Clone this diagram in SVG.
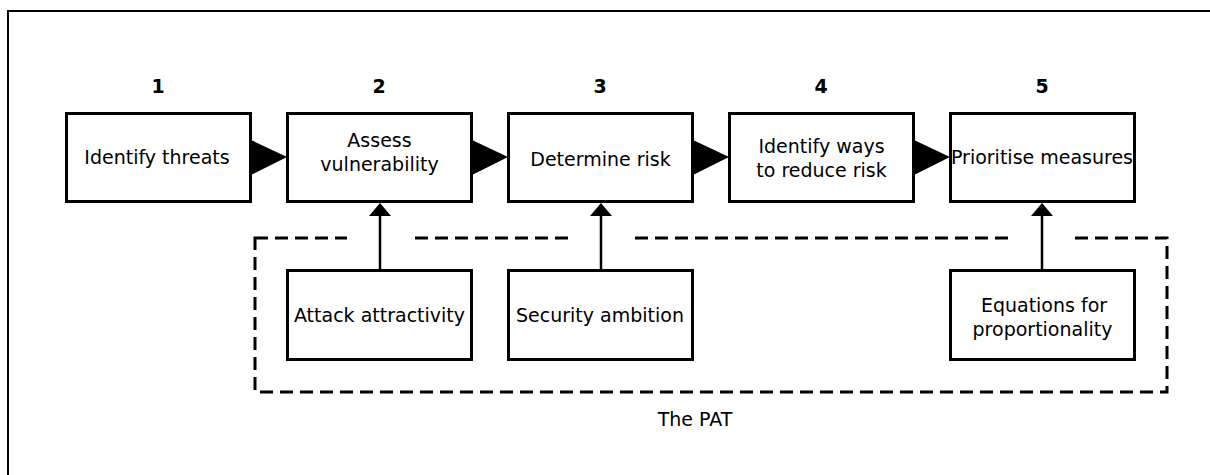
<svg xmlns="http://www.w3.org/2000/svg" width="1210" height="475" viewBox="0 0 1210 475">
  <style>
    .box { fill: #fff; stroke: #000; stroke-width: 3; }
    .lbl { font-family: "DejaVu Sans", "Liberation Sans", sans-serif; font-size: 19px; fill: #000; text-anchor: middle; }
    .num { font-family: "DejaVu Sans", "Liberation Sans", sans-serif; font-size: 19px; font-weight: bold; fill: #000; text-anchor: middle; }
    .flow { fill: #000; stroke: none; }
    .feed { stroke: #000; stroke-width: 2.5; fill: none; }
    .pat { fill: none; stroke: #000; stroke-width: 3; stroke-dasharray: 13 7; }
  </style>
  <defs>
    <!-- upward arrowhead, tip at the origin -->
    <path id="head-up" d="M0,0 L11,13 L-11,13 Z" fill="#000"/>
  </defs>

  <rect width="1210" height="475" fill="#fff"/>
  <!-- frame -->
  <path d="M8,475 V11 H1210" fill="none" stroke="#000" stroke-width="2"/>

  <!-- PAT boundary, dashed, opened where the inputs pass through -->
  <g id="pat">
    <rect class="pat" x="255" y="238" width="912" height="154"/>
    <rect x="347" y="233" width="65" height="10" fill="#fff"/>
    <rect x="568" y="233" width="60" height="10" fill="#fff"/>
    <rect x="1010" y="233" width="64" height="10" fill="#fff"/>
    <text class="lbl" x="695" y="426">The PAT</text>
  </g>

  <!-- step numbers -->
  <g id="numbers">
    <text class="num" x="158" y="93">1</text>
    <text class="num" x="379" y="93">2</text>
    <text class="num" x="600" y="93">3</text>
    <text class="num" x="821" y="93">4</text>
    <text class="num" x="1042" y="93">5</text>
  </g>

  <g id="connectors">
    <path class="flow" d="M251,140 L251,175 L287,157 Z"/>
    <path class="flow" d="M472,140 L472,175 L508,157 Z"/>
    <path class="flow" d="M693,140 L693,175 L729,157 Z"/>
    <path class="flow" d="M914,140 L914,175 L950,157 Z"/>
    <line class="feed" x1="380" y1="270" x2="380" y2="214"/>
    <use href="#head-up" x="380" y="203"/>
    <line class="feed" x1="601" y1="270" x2="601" y2="214"/>
    <use href="#head-up" x="601" y="203"/>
    <line class="feed" x1="1042" y1="270" x2="1042" y2="214"/>
    <use href="#head-up" x="1042" y="203"/>
  </g>

  <g id="step1">
    <rect class="box" x="66.5" y="113.5" width="184" height="88"/>
    <text class="lbl" x="157" y="164">Identify threats</text>
  </g>
  <g id="step2">
    <rect class="box" x="287.5" y="113.5" width="184" height="88"/>
    <text class="lbl" x="379.5" y="147">Assess</text>
    <text class="lbl" x="379.5" y="171">vulnerability</text>
  </g>
  <g id="step3">
    <rect class="box" x="508.5" y="113.5" width="184" height="88"/>
    <text class="lbl" x="600.5" y="166">Determine risk</text>
  </g>
  <g id="step4">
    <rect class="box" x="729.5" y="113.5" width="184" height="88"/>
    <text class="lbl" x="821.5" y="153">Identify ways</text>
    <text class="lbl" x="821.5" y="177">to reduce risk</text>
  </g>
  <g id="step5">
    <rect class="box" x="950.5" y="113.5" width="184" height="88"/>
    <text class="lbl" x="1042" y="164">Prioritise measures</text>
  </g>

  <g id="attack">
    <rect class="box" x="287.5" y="270.5" width="184" height="89"/>
    <text class="lbl" x="379.5" y="322">Attack attractivity</text>
  </g>
  <g id="ambition">
    <rect class="box" x="508.5" y="270.5" width="184" height="89"/>
    <text class="lbl" x="600" y="322">Security ambition</text>
  </g>
  <g id="equations">
    <rect class="box" x="950.5" y="270.5" width="184" height="89"/>
    <text class="lbl" x="1044" y="312">Equations for</text>
    <text class="lbl" x="1042.5" y="336">proportionality</text>
  </g>
</svg>
